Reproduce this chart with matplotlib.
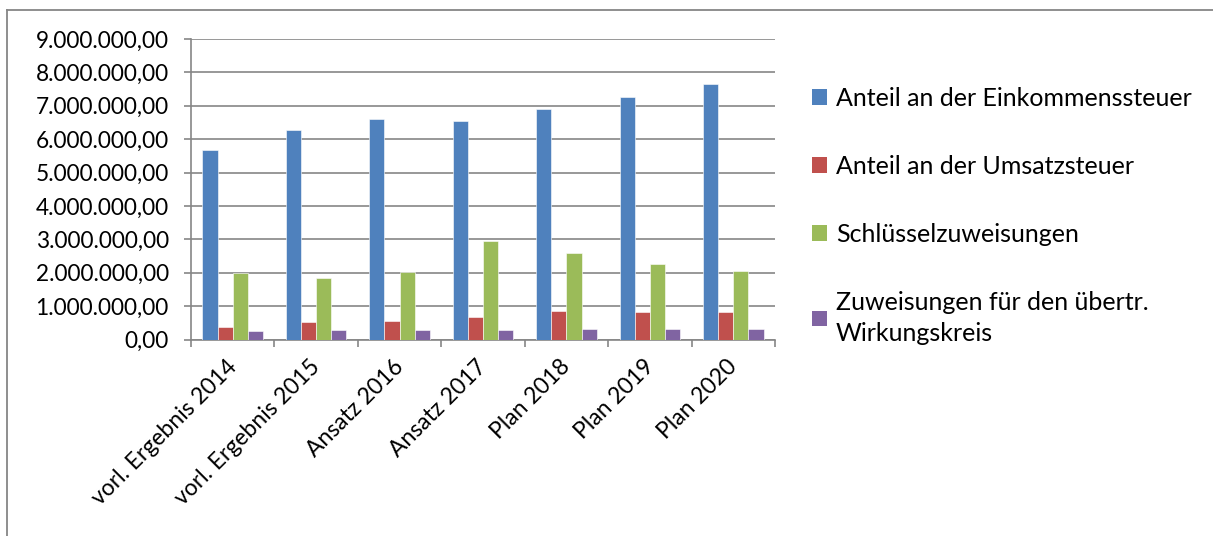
import numpy as np
import matplotlib.pyplot as plt
import matplotlib.transforms as mtransforms
from matplotlib.lines import Line2D
from matplotlib.patches import Patch
from matplotlib.ticker import FuncFormatter, MultipleLocator

plt.rcParams['font.family'] = ['Lato', 'DejaVu Sans']

categories = ["vorl. Ergebnis 2014", "vorl. Ergebnis 2015", "Ansatz 2016",
              "Ansatz 2017", "Plan 2018", "Plan 2019", "Plan 2020"]
series_names = ["Anteil an der Einkommenssteuer", "Anteil an der Umsatzsteuer",
                "Schlüsselzuweisungen", "Zuweisungen für den übertr.\nWirkungskreis"]
einkommen = [5670000, 6270000, 6590000, 6550000, 6910000, 7260000, 7660000]
umsatz = [360000, 520000, 540000, 680000, 840000, 810000, 830000]
schluessel = [1990000, 1830000, 2020000, 2960000, 2600000, 2260000, 2060000]
uebertr = [260000, 270000, 280000, 290000, 300000, 310000, 310000]
colors = ["#4F81BD", "#C0504D", "#9BBB59", "#8064A2"]

grey = "#868686"


def de_fmt(v, pos):
    s = f"{v:,.2f}"
    return s.replace(",", "X").replace(".", ",").replace("X", ".")


fig = plt.figure(figsize=(12.13, 5.36), dpi=100)
ax = fig.add_axes([191 / 1213, 1 - 339.5 / 536, (775 - 191) / 1213, 300.5 / 536])

x = np.arange(len(categories))
w = 1 / 5.5
for i, vals in enumerate([einkommen, umsatz, schluessel, uebertr]):
    ax.bar(x + (i - 1.5) * w, vals, width=w, color=colors[i],
           edgecolor="white", linewidth=0.4, zorder=3)

ax.set_xlim(-0.5, len(categories) - 0.5)
ax.set_ylim(0, 9000000)
ax.yaxis.set_major_locator(MultipleLocator(1000000))
ax.yaxis.set_major_formatter(FuncFormatter(de_fmt))
ax.grid(axis="y", color=grey, linewidth=1.2, zorder=0)

ax.set_xticks(x)
ax.set_xticklabels(categories, rotation=45, ha="right", fontsize=16.5)
ax.set_xticks(np.arange(-0.5, len(categories)), minor=True)
ax.tick_params(axis="x", which="major", length=0, pad=12)
ax.tick_params(axis="x", which="minor", length=5, width=1.2, color=grey, direction="out")
ax.tick_params(axis="y", length=5, width=1.2, color=grey, labelsize=16.3, pad=11)

# nudge rotated labels a little to the right, as in the original
shift = mtransforms.ScaledTranslation(8 / 100, 0, fig.dpi_scale_trans)
for lbl in ax.get_xticklabels():
    lbl.set_transform(lbl.get_transform() + shift)

for side in ["top", "right"]:
    ax.spines[side].set_visible(False)
for side in ["left", "bottom"]:
    ax.spines[side].set_color(grey)
    ax.spines[side].set_linewidth(1.2)

handles = [Patch(facecolor=c, edgecolor="none") for c in colors]
leg = fig.legend(handles, series_names, loc="upper left",
                 bbox_to_anchor=(812 / 1213, 1 - 87 / 536), frameon=False,
                 fontsize=18, handlelength=0.6, handleheight=0.6, handletextpad=0.35,
                 labelspacing=1.8, borderaxespad=0, borderpad=0)
for t in leg.get_texts():
    t.set_linespacing(1.4)

# outer chart frame (partly cut off)
fig.add_artist(Line2D([7 / 1213, 1], [1 - 9.5 / 536, 1 - 9.5 / 536],
                      color=grey, linewidth=1.3, transform=fig.transFigure))
fig.add_artist(Line2D([7 / 1213, 7 / 1213], [0, 1 - 9.5 / 536],
                      color=grey, linewidth=1.3, transform=fig.transFigure))

fig.savefig("out.png", dpi=100)
